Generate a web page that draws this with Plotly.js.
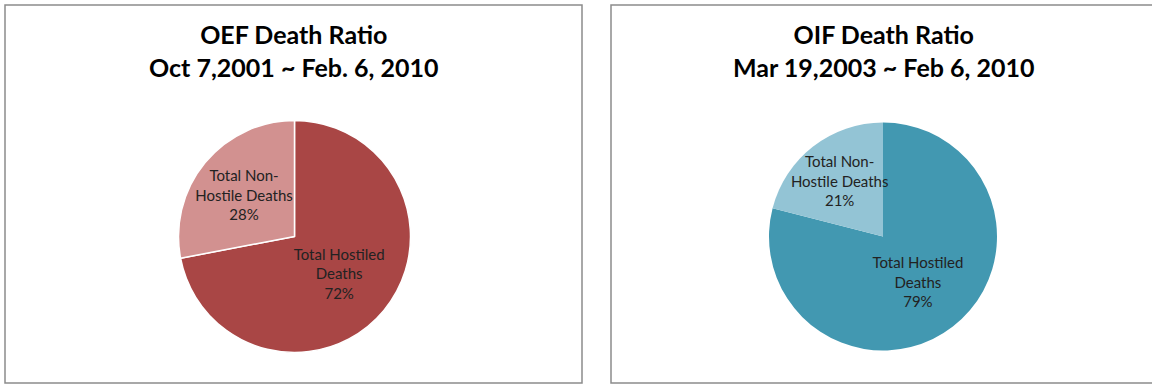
<!DOCTYPE html>
<html>
<head>
<meta charset="utf-8">
<script src="https://cdn.plot.ly/plotly-3.0.1.min.js"></script>
<style>html,body{margin:0;padding:0;background:#fff;}#chart{width:1152px;height:386px;}</style>
</head>
<body>
<div id="chart"></div>
<script>
const categories = ["Total Hostiled Deaths", "Total Non-Hostile Deaths"];
const labelText = ["Total Hostiled<br>Deaths", "Total Non-<br>Hostile Deaths"];
const oefValues = [72, 28];
const oifValues = [79, 21];
const oefTitle = "OEF Death Ratio<br>Oct 7,2001 ~ Feb. 6, 2010";
const oifTitle = "OIF Death Ratio<br>Mar 19,2003 ~ Feb 6, 2010";

const W = 1152, H = 386;
function px(x){return x / W;}
function py(y){return 1 - y / H;}

function pieDomain(cx, cy, r){
  return {x: [px(cx - r), px(cx + r)], y: [py(cy + r), py(cy - r)]};
}

const labelFont = {family: "Lato, 'Open Sans', sans-serif", size: 15, color: "#222"};

const traces = [
  {
    type: "pie",
    labels: categories,
    values: oefValues,
    customdata: labelText,
    texttemplate: "%{customdata}<br>%{percent:.0%}",
    textposition: "inside",
    insidetextorientation: "horizontal",
    textfont: labelFont,
    sort: false,
    direction: "clockwise",
    rotation: 0,
    marker: {colors: ["#A94645", "#D29190"], line: {color: "#ffffff", width: 1.5}},
    domain: pieDomain(294.5, 236.5, 116),
    hoverinfo: "label+percent",
    showlegend: false
  },
  {
    type: "pie",
    labels: categories,
    values: oifValues,
    customdata: labelText,
    texttemplate: "%{customdata}<br>%{percent:.0%}",
    textposition: "inside",
    insidetextorientation: "horizontal",
    textfont: labelFont,
    sort: false,
    direction: "clockwise",
    rotation: 0,
    marker: {colors: ["#4298B1", "#93C4D5"], line: {color: "#93C4D5", width: 0}},
    domain: pieDomain(883, 236.5, 114),
    hoverinfo: "label+percent",
    showlegend: false
  }
];

const titleFont = {family: "Lato, 'Open Sans', sans-serif", size: 25, color: "#000"};

const layout = {
  width: W, height: H,
  margin: {l: 0, r: 0, t: 0, b: 0},
  paper_bgcolor: "#ffffff",
  showlegend: false,
  uniformtext: {mode: "show", minsize: 15},
  annotations: [
    {text: "<b>" + oefTitle + "</b>", x: px(293.5), y: py(50), xref: "paper", yref: "paper",
     xanchor: "center", yanchor: "middle", showarrow: false, font: titleFont, align: "center"},
    {text: "<b>" + oifTitle + "</b>", x: px(883), y: py(50), xref: "paper", yref: "paper",
     xanchor: "center", yanchor: "middle", showarrow: false, font: titleFont, align: "center"}
  ],
  shapes: [
    {type: "rect", xref: "paper", yref: "paper", x0: px(5), x1: px(582), y0: py(383), y1: py(5),
     line: {color: "#8c8c8c", width: 1.5}, fillcolor: "rgba(0,0,0,0)", layer: "below"},
    {type: "rect", xref: "paper", yref: "paper", x0: px(611), x1: px(1160), y0: py(383), y1: py(5),
     line: {color: "#8c8c8c", width: 1.5}, fillcolor: "rgba(0,0,0,0)", layer: "below"}
  ]
};

Plotly.newPlot("chart", traces, layout, {staticPlot: true, displayModeBar: false});
</script>
</body>
</html>
